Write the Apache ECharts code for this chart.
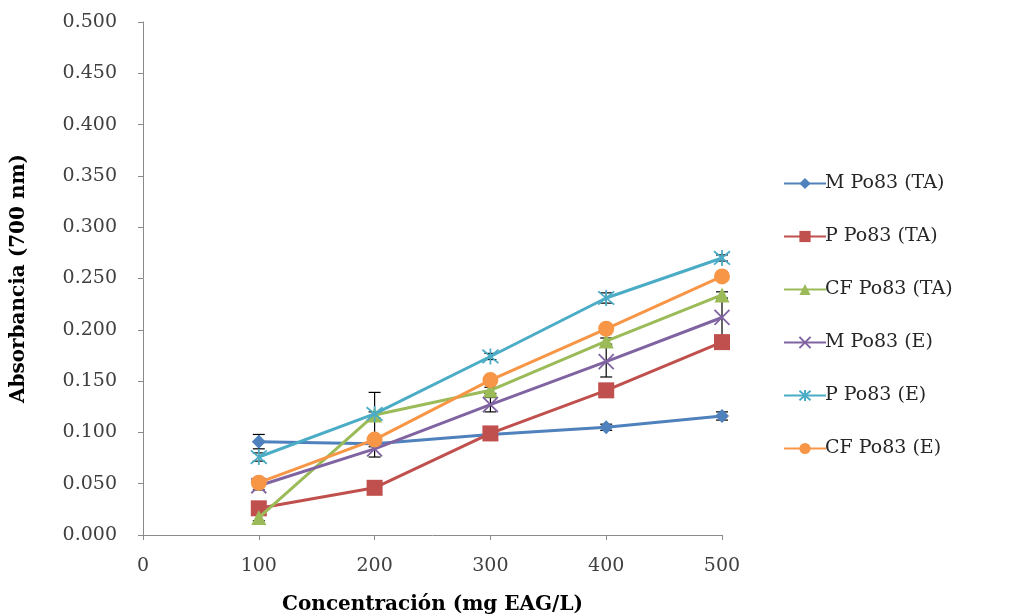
<!DOCTYPE html>
<html>
<head>
<meta charset="utf-8">
<script src="https://cdn.jsdelivr.net/npm/echarts@6/dist/echarts.min.js"></script>
<style>html,body{margin:0;padding:0;background:#fff}#c{width:1034px;height:616px}</style>
</head>
<body>
<div id="c"></div>
<script>
const concentrations = [100, 200, 300, 400, 500];
const seriesNames = ['M Po83 (TA)', 'P Po83 (TA)', 'CF Po83 (TA)', 'M Po83 (E)', 'P Po83 (E)', 'CF Po83 (E)'];
const mTA  = [0.091, 0.089, 0.098, 0.105, 0.116];
const pTA  = [0.026, 0.046, 0.099, 0.141, 0.188];
const cfTA = [0.017, 0.117, 0.141, 0.189, 0.234];
const mE   = [0.048, 0.084, 0.127, 0.169, 0.212];
const pE   = [0.076, 0.118, 0.174, 0.231, 0.270];
const cfE  = [0.051, 0.093, 0.151, 0.201, 0.252];
const mTAerr  = [0.007, 0.003, 0.003, 0.003, 0.004];
const pTAerr  = [0.003, 0.003, 0.003, 0.003, 0.003];
const cfTAerr = [0.003, 0.003, 0.003, 0.003, 0.003];
const mEerr   = [0.004, 0.008, 0.007, 0.015, 0.018];
const pEerr   = [0.004, 0.021, 0.003, 0.005, 0.003];
const cfEerr  = [0.003, 0.003, 0.003, 0.003, 0.003];
const yTicks = ['0.000','0.050','0.100','0.150','0.200','0.250','0.300','0.350','0.400','0.450','0.500'];

const values = [mTA, pTA, cfTA, mE, pE, cfE];
const errors = [mTAerr, pTAerr, cfTAerr, mEerr, pEerr, cfEerr];
const colors = ['#4F81BD', '#C0504D', '#9BBB59', '#8064A2', '#4BACC6', '#F79646'];
const xPath = 'path://M0,0L10,10M10,0L0,10';
const starPath = 'path://M0,0L10,10M10,0L0,10M5,-1L5,11';
const symbols = ['diamond', 'rect', 'triangle', xPath, starPath, 'circle'];
const sizes = [14, 16, 15, 15, 16, 16];

const font = 'DejaVu Serif';
const series = [];
values.forEach((vals, i) => {
  series.push({
    name: seriesNames[i],
    type: 'line',
    data: concentrations.map((x, j) => [x, vals[j]]),
    symbol: symbols[i],
    symbolSize: sizes[i],
    showAllSymbol: true,
    lineStyle: { color: colors[i], width: 3 },
    itemStyle: { color: colors[i], borderColor: colors[i], borderWidth: (i === 3 || i === 4) ? 1.8 : 0 },
    z: 3 + i
  });
});
values.forEach((vals, i) => {
  series.push({
    type: 'custom',
    name: seriesNames[i] + ' err',
    data: concentrations.map((x, j) => [x, vals[j] - errors[i][j], vals[j] + errors[i][j]]),
    renderItem: function (params, api) {
      const x = api.value(0);
      const lo = api.coord([x, api.value(1)]);
      const hi = api.coord([x, api.value(2)]);
      const w = 6;
      const st = { stroke: '#000', lineWidth: 1.2 };
      return {
        type: 'group',
        children: [
          { type: 'line', shape: { x1: lo[0], y1: lo[1], x2: hi[0], y2: hi[1] }, style: st },
          { type: 'line', shape: { x1: lo[0] - w, y1: lo[1], x2: lo[0] + w, y2: lo[1] }, style: st },
          { type: 'line', shape: { x1: hi[0] - w, y1: hi[1], x2: hi[0] + w, y2: hi[1] }, style: st }
        ]
      };
    },
    z: 2,
    silent: true
  });
});

const chart = echarts.init(document.getElementById('c'));
chart.setOption({
  backgroundColor: '#fff',
  animation: false,
  grid: { left: 143, right: 312, top: 22, bottom: 81, containLabel: false, outerBoundsMode: 'none' },
  legend: {
    data: seriesNames,
    orient: 'vertical',
    left: 778,
    top: 169,
    itemGap: 34,
    itemWidth: 42,
    itemHeight: 14,
    textStyle: { fontFamily: font, fontSize: 19, color: '#262626', padding: [0, 0, 0, -6] }
  },
  xAxis: {
    type: 'value',
    min: 0, max: 500, interval: 100,
    name: 'Concentración (mg EAG/L)',
    nameLocation: 'middle',
    nameGap: 60,
    nameTextStyle: { fontFamily: font, fontSize: 20, fontWeight: 'bold', color: '#000' },
    axisLine: { lineStyle: { color: '#8a8a8a', width: 1 } },
    axisTick: { show: true, length: 5, lineStyle: { color: '#8a8a8a' } },
    axisLabel: { fontFamily: font, fontSize: 19, color: '#404040', margin: 22 },
    splitLine: { show: false }
  },
  yAxis: {
    type: 'value',
    min: 0, max: 0.5, interval: 0.05,
    name: 'Absorbancia (700 nm)',
    nameLocation: 'middle',
    nameGap: 114,
    nameTextStyle: { fontFamily: font, fontSize: 20, fontWeight: 'bold', color: '#000' },
    axisLine: { show: true, lineStyle: { color: '#8a8a8a', width: 1 } },
    axisTick: { show: true, length: 5, lineStyle: { color: '#8a8a8a' } },
    axisLabel: {
      fontFamily: font, fontSize: 19, color: '#404040', margin: 26,
      formatter: function (v) { return yTicks[Math.round(v / 0.05)]; }
    },
    splitLine: { show: false }
  },
  series: series
});
</script>
</body>
</html>
